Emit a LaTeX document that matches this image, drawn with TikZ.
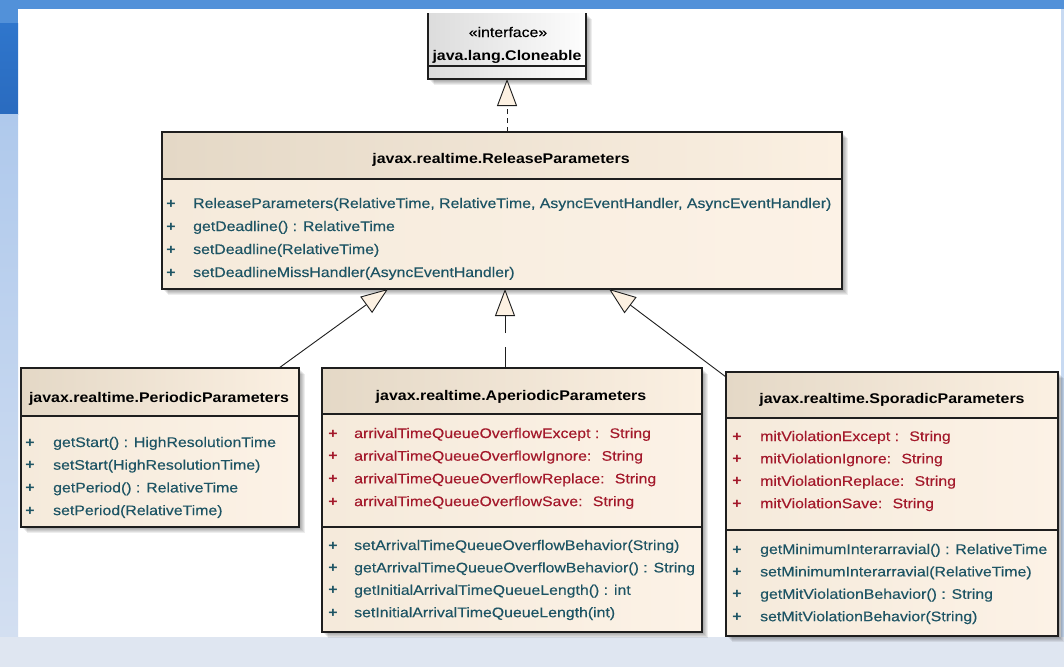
\documentclass[tikz,border=0pt]{standalone}
\usepackage{fontspec}
\setmainfont{Liberation Sans}[FakeStretch=1.14]
\newfontfamily\umlface{Liberation Sans}[FakeStretch=1.14, FakeBold=0.3]
\usetikzlibrary{arrows.meta,calc}

% window frame
\definecolor{bandblue}{HTML}{5291D9}
\definecolor{stripdark}{HTML}{2F76CC}
\definecolor{stripdarkb}{HTML}{2A6BBF}
\definecolor{striplight}{HTML}{AFC9EC}
\definecolor{striplightb}{HTML}{D3DFF1}
\definecolor{paleblue}{HTML}{DFE6F1}
\definecolor{edgeblue}{HTML}{C8DAF2}
% class boxes
\definecolor{headl}{HTML}{E4D8C6}
\definecolor{headr}{HTML}{FBF0E2}
\definecolor{bodyl}{HTML}{F5EADB}
\definecolor{bodyr}{HTML}{FCF2E6}
\definecolor{greyl}{HTML}{DCDCDC}
\definecolor{greyr}{HTML}{FDFDFD}
\definecolor{boxline}{HTML}{1E1E1E}
\definecolor{opcol}{HTML}{1D5464}
\definecolor{attrcol}{HTML}{A3182A}
\definecolor{tipfill}{HTML}{FDF1E2}

\newcommand\umlmember{\umlface\fontsize{13.9}{16}\selectfont}
\newcommand\umltitle{\bfseries\fontsize{14}{17}\selectfont}

\tikzset{
  outline/.style={draw=boxline, line width=1.2pt},
  title/.style={font=\umltitle, text=black, inner sep=0pt},
  op/.style={font=\umlmember, text=opcol, inner sep=0pt},
  attr/.style={font=\umlmember, text=attrcol, inner sep=0pt},
  sign/.style={font=\umltitle},
  gen/.style={draw=boxline, line width=0.9pt,
    -{Triangle[width=20pt,length=27pt,fill=tipfill,line width=0.9pt]}},
}

% soft drop shadow below and right of a named box
\newcommand\umlshadow[1]{%
  \foreach \o in {1,...,6}{%
    \fill[black, opacity=.07] ([shift={(\o,-\o)}]#1.south west)
      rectangle ([shift={(\o,-\o)}]#1.north east);}}

% class box: name, left x, top y, width, height, header height
\newcommand\umlclass[6]{%
  \path node[anchor=north west, minimum width=#4pt, minimum height=#5pt,
    inner sep=0pt, outer sep=0pt] (#1) at (#2,-#3) {};
  \umlshadow{#1}
  \shade[left color=bodyl, right color=bodyr] (#1.south west) rectangle (#1.north east);
  \shade[left color=headl, right color=headr] (#1.north west)
    rectangle ([yshift=-#6pt]#1.north east);
  \draw[outline] (#1.north west) rectangle (#1.south east);
  \draw[outline] ([yshift=-#6pt]#1.north west) -- ([yshift=-#6pt]#1.north east);
}

\begin{document}
\begin{tikzpicture}[x=1pt, y=1pt]
\path[use as bounding box] (0,0) rectangle (1064,-667);

% ---- frame ----
\fill[white] (0,0) rectangle (1064,-667);
\fill[paleblue] (0,-637) rectangle (1064,-667);
\fill[edgeblue] (1061,-9) rectangle (1064,-637);
\fill[bandblue] (0,0) rectangle (18,-23);
\shade[top color=stripdark, bottom color=stripdarkb] (0,-23) rectangle (18,-114);
\shade[top color=striplight, bottom color=striplightb] (0,-114) rectangle (18,-637);
\fill[paleblue] (0,-637) rectangle (18,-667);
\fill[bandblue] (0,0) rectangle (1064,-9);

% ---- java.lang.Cloneable ----
\path node[anchor=north west, minimum width=158pt, minimum height=66pt,
  inner sep=0pt, outer sep=0pt] (clone) at (428,-13) {};
\umlshadow{clone}
\shade[left color=greyl, right color=greyr] (clone.south west) rectangle (clone.north east);
\draw[outline] (clone.north west) -- (clone.south west) -- (clone.south east) -- (clone.north east);
\draw[outline] ([yshift=13pt]clone.south west) -- ([yshift=13pt]clone.south east);
\node[font=\umlmember, text=black, inner sep=0pt, anchor=base] (clone-st) at (508,-37) {«interface»};
\node[title, anchor=base] (clone-name) at (507,-60) {java.lang.Cloneable};

% ---- ReleaseParameters ----
\umlclass{rel}{162}{132}{680}{157}{47}
\node[title, anchor=base] (rel-name) at (501,-163) {javax.realtime.ReleaseParameters};
\foreach \t [count=\i] in {%
  {ReleaseParameters(RelativeTime, RelativeTime, AsyncEventHandler, AsyncEventHandler)},
  {getDeadline() : RelativeTime},
  {setDeadline(RelativeTime)},
  {setDeadlineMissHandler(AsyncEventHandler)}}{%
  \node[op, sign, anchor=base] (rel-op\i p) at (171,{-208-23*(\i-1)}) {+};
  \node[op, anchor=base west] (rel-op\i) at (193,{-208-23*(\i-1)}) {\t};
}

% ---- PeriodicParameters ----
\umlclass{per}{21}{368}{278}{159}{48}
\node[title, anchor=base] (per-name) at (159,-402) {javax.realtime.PeriodicParameters};
\foreach \t [count=\i] in {%
  {getStart() : HighResolutionTime},
  {setStart(HighResolutionTime)},
  {getPeriod() : RelativeTime},
  {setPeriod(RelativeTime)}}{%
  \node[op, sign, anchor=base] (per-op\i p) at (30,{-447-22.7*(\i-1)}) {+};
  \node[op, anchor=base west] (per-op\i) at (53,{-447-22.7*(\i-1)}) {\t};
}

% ---- AperiodicParameters ----
\umlclass{ape}{322}{368}{380}{264}{46}
\draw[outline] ([yshift=-159pt]ape.north west) -- ([yshift=-159pt]ape.north east);
\node[title, anchor=base] (ape-name) at (511,-400) {javax.realtime.AperiodicParameters};
\foreach \t [count=\i] in {%
  {arrivalTimeQueueOverflowExcept :~ String},
  {arrivalTimeQueueOverflowIgnore:~ String},
  {arrivalTimeQueueOverflowReplace:~ String},
  {arrivalTimeQueueOverflowSave:~ String}}{%
  \node[attr, sign, anchor=base] (ape-at\i p) at (333,{-438-22.7*(\i-1)}) {+};
  \node[attr, anchor=base west] (ape-at\i) at (354,{-438-22.7*(\i-1)}) {\t};
}
\foreach \t [count=\i] in {%
  {setArrivalTimeQueueOverflowBehavior(String)},
  {getArrivalTimeQueueOverflowBehavior() : String},
  {getInitialArrivalTimeQueueLength() : int},
  {setInitialArrivalTimeQueueLength(int)}}{%
  \node[op, sign, anchor=base] (ape-op\i p) at (333,{-550-22.4*(\i-1)}) {+};
  \node[op, anchor=base west] (ape-op\i) at (354,{-550-22.4*(\i-1)}) {\t};
}

% ---- SporadicParameters ----
\umlclass{spo}{726}{372}{332}{264}{46}
\draw[outline] ([yshift=-158pt]spo.north west) -- ([yshift=-158pt]spo.north east);
\node[title, anchor=base] (spo-name) at (892,-403) {javax.realtime.SporadicParameters};
\foreach \t [count=\i] in {%
  {mitViolationExcept :~ String},
  {mitViolationIgnore:~ String},
  {mitViolationReplace:~ String},
  {mitViolationSave:~ String}}{%
  \node[attr, sign, anchor=base] (spo-at\i p) at (737,{-441-22.4*(\i-1)}) {+};
  \node[attr, anchor=base west] (spo-at\i) at (760,{-441-22.4*(\i-1)}) {\t};
}
\foreach \t [count=\i] in {%
  {getMinimumInterarravial() : RelativeTime},
  {setMinimumInterarravial(RelativeTime)},
  {getMitViolationBehavior() : String},
  {setMitViolationBehavior(String)}}{%
  \node[op, sign, anchor=base] (spo-op\i p) at (737,{-554-22.4*(\i-1)}) {+};
  \node[op, anchor=base west] (spo-op\i) at (760,{-554-22.4*(\i-1)}) {\t};
}

% ---- connectors ----
\draw[gen, dash pattern=on 5pt off 4pt] (rel.north -| clone.south) -- (clone.south);

\coordinate (midTip) at ([xshift=3pt]rel.south);
\draw[gen, dash pattern=on 21pt off 14pt on 200pt off 1pt] (midTip |- ape.north) -- (midTip);

\coordinate (perTail) at ([xshift=-20pt]per.north east);
\coordinate (leftTip) at ([xshift=226pt]rel.south west);
\draw[gen] (perTail) -- (leftTip);

\coordinate (spoTail) at ([yshift=-5pt]spo.north west);
\coordinate (rightTip) at ([xshift=447pt]rel.south west);
\draw[gen] (spoTail) -- (rightTip);
\end{tikzpicture}
\end{document}
